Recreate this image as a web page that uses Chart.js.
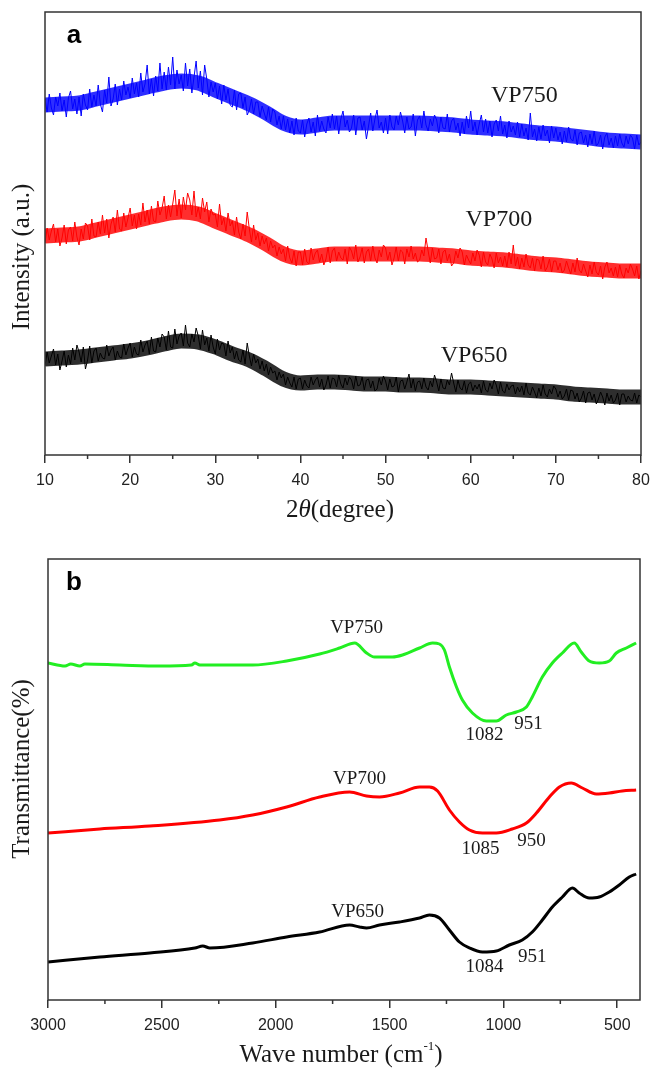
<!DOCTYPE html>
<html lang="en">
<head>
<meta charset="UTF-8">
<title>XRD and FTIR of VP650 / VP700 / VP750</title>
<script src="https://cdn.jsdelivr.net/npm/chart.js"></script>
<style>
  body { margin: 0; background: #fff; }
  canvas { display: block; }
</style>
</head>
<body>
<canvas id="xrdChart" width="650" height="530"></canvas>
<canvas id="ftirChart" width="650" height="541"></canvas>

<script>
  // ---- panel a: XRD, 2theta from 10 to 80, one reading every 0.25 degree ----
  const xrdStart = 10;
  const xrdStep = 0.25;
  const xrdTicks = [10, 20, 30, 40, 50, 60, 70, 80];
  const xrdMinor = [15, 25, 35, 45, 55, 65, 75];

  const xrdVP750 = [
    356, 343, 361, 347, 340, 358, 349, 362, 344, 355, 338, 357, 364, 346, 356, 341,
    358, 339, 361, 350, 345, 366, 348, 360, 349, 370, 351, 343, 365, 352, 378, 349,
    356, 371, 350, 366, 355, 374, 360, 368, 357, 377, 361, 372, 358, 382, 363, 371,
    390, 361, 376, 359, 379, 364, 392, 366, 383, 365, 388, 370, 398, 366, 385, 371,
    380, 364, 392, 369, 386, 362, 378, 394, 367, 384, 360, 390, 376, 358, 373, 363,
    372, 356, 369, 351, 370, 355, 366, 350, 348, 365, 345, 361, 362, 347, 358, 340,
    345, 356, 341, 353, 353, 338, 349, 342, 335, 348, 333, 346, 343, 330, 339, 326,
    339, 325, 336, 322, 334, 320, 337, 324, 322, 335, 318, 331, 337, 323, 333, 319,
    340, 324, 334, 326, 322, 338, 327, 341, 326, 339, 321, 336, 344, 328, 335, 323,
    327, 340, 320, 337, 338, 325, 334, 316, 329, 342, 324, 336, 345, 327, 333, 322,
    337, 321, 340, 328, 325, 339, 330, 343, 334, 322, 338, 326, 328, 341, 319, 335,
    339, 327, 344, 330, 324, 336, 329, 340, 335, 322, 338, 327, 326, 341, 323, 334,
    337, 325, 332, 319, 333, 321, 339, 327, 344, 324, 333, 320, 331, 340, 323, 336,
    322, 334, 318, 331, 335, 324, 339, 321, 330, 317, 334, 323, 329, 320, 333, 318,
    331, 319, 327, 315, 342, 318, 326, 314, 328, 316, 330, 319, 325, 312, 329, 317,
    327, 315, 323, 311, 324, 313, 328, 316, 314, 325, 310, 322, 323, 312, 320, 308,
    321, 311, 324, 309, 312, 320, 306, 318, 322, 310, 317, 307, 319, 309, 321, 312,
    308, 319, 311, 320, 317, 306, 320, 310, 313
  ];

  const xrdVP700 = [
    212, 227, 215, 224, 231, 213, 226, 209, 217, 230, 211, 225, 228, 214, 233, 218,
    210, 226, 216, 232, 229, 215, 236, 219, 218, 233, 221, 240, 222, 236, 217, 231,
    238, 223, 245, 226, 224, 242, 228, 237, 247, 229, 240, 226, 241, 230, 252, 233,
    245, 231, 249, 234, 233, 254, 240, 247, 259, 236, 250, 238, 251, 265, 239, 256,
    237, 258, 245, 262, 255, 240, 264, 238, 248, 236, 257, 243, 253, 233, 246, 240,
    241, 228, 251, 230, 237, 224, 242, 229, 234, 220, 238, 223, 216, 231, 219, 243,
    226, 213, 230, 215, 222, 209, 219, 211, 217, 204, 214, 207, 210, 199, 208, 201,
    206, 194, 209, 197, 192, 204, 189, 203, 203, 190, 206, 193, 191, 207, 195, 202,
    205, 193, 201, 190, 196, 208, 192, 204, 207, 194, 203, 197, 195, 206, 191, 208,
    204, 196, 210, 193, 198, 207, 192, 203, 206, 194, 209, 197, 192, 205, 198, 210,
    207, 195, 203, 190, 197, 208, 194, 205, 203, 191, 206, 198, 209, 196, 202, 193,
    195, 205, 199, 217, 204, 192, 207, 196, 197, 206, 191, 203, 205, 194, 201, 189,
    192, 204, 197, 207, 203, 190, 200, 195, 191, 202, 194, 205, 200, 188, 203, 193,
    190, 201, 196, 187, 202, 192, 198, 189, 199, 188, 203, 191, 210, 189, 198, 186,
    197, 188, 201, 190, 187, 197, 184, 196, 195, 186, 199, 184, 188, 196, 183, 194,
    194, 185, 192, 182, 185, 194, 187, 181, 192, 183, 197, 185, 182, 191, 184, 178,
    190, 181, 193, 183, 180, 189, 176, 188, 193, 182, 187, 179, 188, 178, 190, 181,
    177, 187, 182, 191, 186, 179, 189, 176, 184
  ];

  const xrdVP650 = [
    89, 103, 92, 99, 106, 90, 101, 85, 94, 104, 88, 100, 91, 107, 95, 110,
    103, 93, 108, 86, 95, 109, 92, 104, 107, 94, 102, 97, 96, 110, 99, 105,
    108, 95, 104, 98, 97, 111, 100, 107, 112, 98, 108, 101, 100, 115, 103, 110,
    114, 101, 118, 104, 103, 117, 108, 121, 118, 105, 124, 108, 107, 126, 111, 119,
    122, 109, 130, 112, 108, 121, 113, 127, 119, 106, 125, 110, 117, 104, 120, 108,
    101, 116, 105, 112, 111, 99, 114, 102, 108, 96, 104, 95, 93, 105, 91, 112,
    99, 89, 101, 92, 96, 86, 94, 84, 91, 80, 88, 82, 84, 75, 83, 77,
    81, 70, 78, 72, 68, 78, 66, 76, 77, 66, 75, 69, 67, 78, 70, 75,
    78, 68, 76, 65, 70, 79, 67, 77, 76, 68, 80, 71, 67, 77, 70, 78,
    75, 66, 79, 69, 70, 78, 65, 75, 76, 67, 74, 64, 66, 77, 70, 79,
    74, 65, 76, 68, 69, 78, 63, 74, 75, 66, 73, 81, 67, 76, 64, 73,
    74, 66, 77, 68, 65, 74, 68, 80, 73, 64, 76, 67, 66, 75, 70, 82,
    72, 63, 75, 67, 65, 74, 62, 71, 73, 64, 70, 66, 71, 62, 74, 65,
    63, 72, 66, 75, 70, 61, 73, 64, 62, 71, 65, 69, 70, 61, 68, 63,
    69, 60, 72, 62, 60, 68, 63, 57, 67, 59, 70, 61, 58, 66, 61, 69,
    66, 58, 64, 56, 59, 66, 55, 65, 64, 56, 62, 53, 57, 64, 52, 62,
    63, 55, 61, 51, 56, 63, 58, 50, 62, 54, 60, 52, 55, 62, 50, 61,
    61, 53, 59, 55, 54, 62, 52, 60, 58
  ];

  // dense middle of each noisy trace, one reading every 2 degrees (10..80)
  const coreStep = 2;
  const xrdVP750Core = [350, 351, 352, 356, 360, 364, 368, 372, 374, 372, 365, 358, 351, 342, 332, 328, 330, 332,
    332, 332, 332, 332, 332, 331, 330, 328, 327, 326, 324, 322, 321, 319, 317, 315, 314, 313];
  const xrdVP700Core = [219, 220, 221, 225, 229, 233, 237, 241, 243, 241, 234, 227, 220, 211, 201, 197, 199, 201,
    201, 201, 201, 201, 201, 200, 199, 197, 196, 195, 193, 191, 190, 188, 186, 185, 184, 184];
  const xrdVP650Core = [96, 97, 98, 100, 102, 104, 107, 111, 114, 113, 108, 101, 95, 86, 76, 72, 73, 73,
    72, 71, 71, 70, 70, 69, 68, 68, 67, 66, 65, 64, 63, 61, 60, 59, 58, 58];

  // ---- panel b: FTIR, wave number (cm-1) and transmittance (offset traces) ----
  const ftirTicks = [3000, 2500, 2000, 1500, 1000, 500];
  const ftirMinor = [2750, 2250, 1750, 1250, 750];

  const vp750Wn = [3000, 2925, 2900, 2860, 2838, 2684, 2509, 2370, 2355, 2333, 2101, 1952, 1807, 1719,
    1653, 1601, 1566, 1487, 1443, 1368, 1311, 1281, 1259, 1237, 1206, 1180, 1136, 1075,
    1031, 987, 943, 899, 873, 829, 785, 741, 689, 658, 623, 579, 535, 504, 460, 417];
  const vp750T = [337, 334, 336, 334, 336, 335, 334, 335, 337, 335, 335, 339, 346, 352,
    357, 347, 343, 343, 345, 352, 357, 356, 350, 333, 313, 300, 287, 279,
    279, 285, 288, 293, 303, 323, 337, 347, 357, 348, 339, 337, 339, 347, 352, 357];

  const vp700Wn = [3000, 2772, 2553, 2246, 2101, 1952, 1807, 1675, 1601, 1544, 1456, 1368, 1325, 1289,
    1237, 1193, 1149, 1092, 1031, 961, 899, 855, 798, 754, 702, 653, 592, 535, 478, 417];
  const vp700T = [167, 171, 174, 180, 185, 193, 203, 208, 204, 203, 207, 213, 213, 209,
    190, 178, 170, 167, 167, 171, 177, 187, 203, 213, 217, 212, 206, 207, 209, 210];

  const vp650Wn = [3000, 2772, 2553, 2355, 2320, 2289, 2101, 1952, 1807, 1675, 1632, 1601, 1544, 1456,
    1368, 1325, 1281, 1237, 1193, 1149, 1092, 1031, 974, 917, 873, 829, 785, 741, 697,
    667, 623, 579, 535, 491, 447, 417];
  const vp650T = [38, 43, 47, 52, 54, 52, 57, 63, 68, 75, 73, 72, 75, 78,
    82, 85, 82, 70, 58, 52, 48, 49, 55, 60, 68, 80, 93, 103, 112,
    107, 102, 103, 108, 115, 123, 126];

  // text next to the curves, in data coordinates
  const xrdLabels = [
    { text: 'VP750', x: 66.3, y: 359 },
    { text: 'VP700', x: 63.3, y: 235 },
    { text: 'VP650', x: 60.4, y: 99 }
  ];
  const ftirLabels = [
    { text: 'VP750', x: 1645, y: 372 },
    { text: 'VP700', x: 1632, y: 221 },
    { text: 'VP650', x: 1640, y: 88 },
    { text: '1082', x: 1083, y: 265 },
    { text: '951', x: 890, y: 276 },
    { text: '1085', x: 1101, y: 151 },
    { text: '950', x: 877, y: 159 },
    { text: '1084', x: 1083, y: 33 },
    { text: '951', x: 873, y: 43 }
  ];

  const SERIF = '"Liberation Serif", "Times New Roman", serif';
  const SANS = '"Liberation Sans", Arial, sans-serif';

  const xrdPoints = (vals, step) => vals.map((v, i) => ({ x: xrdStart + i * step, y: v }));
  const pairUp = (xs, ys) => xs.map((x, i) => ({ x: x, y: ys[i] }));

  // draws a line of text made of pieces with their own font / vertical shift
  function richText(ctx, parts, cx, cy) {
    let total = 0;
    parts.forEach(p => { ctx.font = p.font; total += ctx.measureText(p.text).width; });
    let x = cx - total / 2;
    ctx.textAlign = 'left';
    parts.forEach(p => {
      ctx.font = p.font;
      ctx.fillText(p.text, x, cy + (p.dy || 0));
      x += ctx.measureText(p.text).width;
    });
  }

  // box, minor ticks, curve labels, panel letter and axis titles
  const panelDecor = {
    id: 'panelDecor',
    afterDraw(chart, args, opts) {
      const { ctx, chartArea: a, scales } = chart;
      ctx.save();
      ctx.strokeStyle = '#333';
      ctx.lineWidth = 1.5;
      ctx.strokeRect(a.left, a.top, a.right - a.left, a.bottom - a.top);

      opts.minor.forEach(v => {
        const px = scales.x.getPixelForValue(v);
        ctx.beginPath();
        ctx.moveTo(px, a.bottom);
        ctx.lineTo(px, a.bottom + 4);
        ctx.stroke();
      });

      ctx.fillStyle = '#1a1a1a';
      ctx.textBaseline = 'middle';
      ctx.textAlign = 'center';
      ctx.font = opts.labelFont;
      opts.labels.forEach(l => {
        ctx.fillText(l.text, scales.x.getPixelForValue(l.x), scales.y.getPixelForValue(l.y));
      });

      ctx.fillStyle = '#000';
      ctx.font = 'bold 26px ' + SANS;
      ctx.fillText(opts.letter, opts.letterPos[0], opts.letterPos[1]);

      ctx.fillStyle = '#1a1a1a';
      richText(ctx, opts.xTitle, opts.xTitlePos[0], opts.xTitlePos[1]);

      ctx.translate(opts.yTitlePos[0], opts.yTitlePos[1]);
      ctx.rotate(-Math.PI / 2);
      ctx.textAlign = 'center';
      ctx.font = '25px ' + SERIF;
      ctx.fillText(opts.yTitle, 0, 0);
      ctx.restore();
    }
  };

  function xAxis(min, max, ticks, reverse, height) {
    return {
      type: 'linear',
      min: min,
      max: max,
      reverse: reverse,
      afterBuildTicks: axis => { axis.ticks = ticks.map(v => ({ value: v })); },
      afterFit: axis => { axis.height = height; axis.paddingLeft = 0; axis.paddingRight = 0; },
      ticks: {
        padding: 8, color: '#222', font: { family: SANS, size: 16 }, maxRotation: 0, autoSkip: false,
        callback: v => String(v)
      },
      grid: { drawOnChartArea: false, drawTicks: true, tickLength: 8, color: '#333', lineWidth: 1.5 },
      border: { display: false }
    };
  }

  const common = {
    responsive: false,
    animation: false,
    devicePixelRatio: 1,
    elements: { point: { radius: 0 } }
  };

  const noisy = (label, vals, color) => ({
    label: label, data: xrdPoints(vals, xrdStep), borderColor: color, borderWidth: 1, order: 1
  });
  const core = (label, vals, color) => ({
    label: label + ' core', data: xrdPoints(vals, coreStep), borderColor: color, borderWidth: 15,
    cubicInterpolationMode: 'monotone', order: 2
  });

  new Chart(document.getElementById('xrdChart'), {
    type: 'line',
    data: {
      datasets: [
        core('VP750', xrdVP750Core, 'rgba(0, 0, 255, 0.82)'),
        core('VP700', xrdVP700Core, 'rgba(255, 0, 0, 0.82)'),
        core('VP650', xrdVP650Core, 'rgba(0, 0, 0, 0.82)'),
        noisy('VP750', xrdVP750, '#0000ff'),
        noisy('VP700', xrdVP700, '#ff0000'),
        noisy('VP650', xrdVP650, '#000000')
      ]
    },
    options: Object.assign({}, common, {
      layout: { padding: { left: 45, right: 9, top: 12, bottom: 0 } },
      plugins: {
        legend: { display: false },
        tooltip: { enabled: false },
        panelDecor: {
          minor: xrdMinor,
          labels: xrdLabels,
          labelFont: '24px ' + SERIF,
          letter: 'a',
          letterPos: [74, 36],
          xTitle: [
            { text: '2', font: '25px ' + SERIF },
            { text: '\u03b8', font: 'italic 25px ' + SERIF },
            { text: '(degree)', font: '25px ' + SERIF }
          ],
          xTitlePos: [340, 510],
          yTitle: 'Intensity (a.u.)',
          yTitlePos: [22, 257]
        }
      },
      scales: {
        x: xAxis(10, 80, xrdTicks, false, 75),
        y: { display: false, min: 0, max: 443 }
      }
    }),
    plugins: [panelDecor]
  });

  new Chart(document.getElementById('ftirChart'), {
    type: 'line',
    data: {
      datasets: [
        { label: 'VP750', data: pairUp(vp750Wn, vp750T), borderColor: '#22ee22', borderWidth: 3, cubicInterpolationMode: 'monotone' },
        { label: 'VP700', data: pairUp(vp700Wn, vp700T), borderColor: '#ff0000', borderWidth: 3, cubicInterpolationMode: 'monotone' },
        { label: 'VP650', data: pairUp(vp650Wn, vp650T), borderColor: '#000000', borderWidth: 3, cubicInterpolationMode: 'monotone' }
      ]
    },
    options: Object.assign({}, common, {
      layout: { padding: { left: 48, right: 10, top: 29, bottom: 0 } },
      plugins: {
        legend: { display: false },
        tooltip: { enabled: false },
        panelDecor: {
          minor: ftirMinor,
          labels: ftirLabels,
          labelFont: '19px ' + SERIF,
          letter: 'b',
          letterPos: [74, 53],
          xTitle: [
            { text: 'Wave number (cm', font: '25px ' + SERIF },
            { text: '-1', font: '13px ' + SERIF, dy: -8 },
            { text: ')', font: '25px ' + SERIF }
          ],
          xTitlePos: [341, 525],
          yTitle: 'Transmittance(%)',
          yTitlePos: [22, 239]
        }
      },
      scales: {
        x: xAxis(400, 3000, ftirTicks, true, 71),
        y: { display: false, min: 0, max: 441 }
      }
    }),
    plugins: [panelDecor]
  });
</script>
</body>
</html>
